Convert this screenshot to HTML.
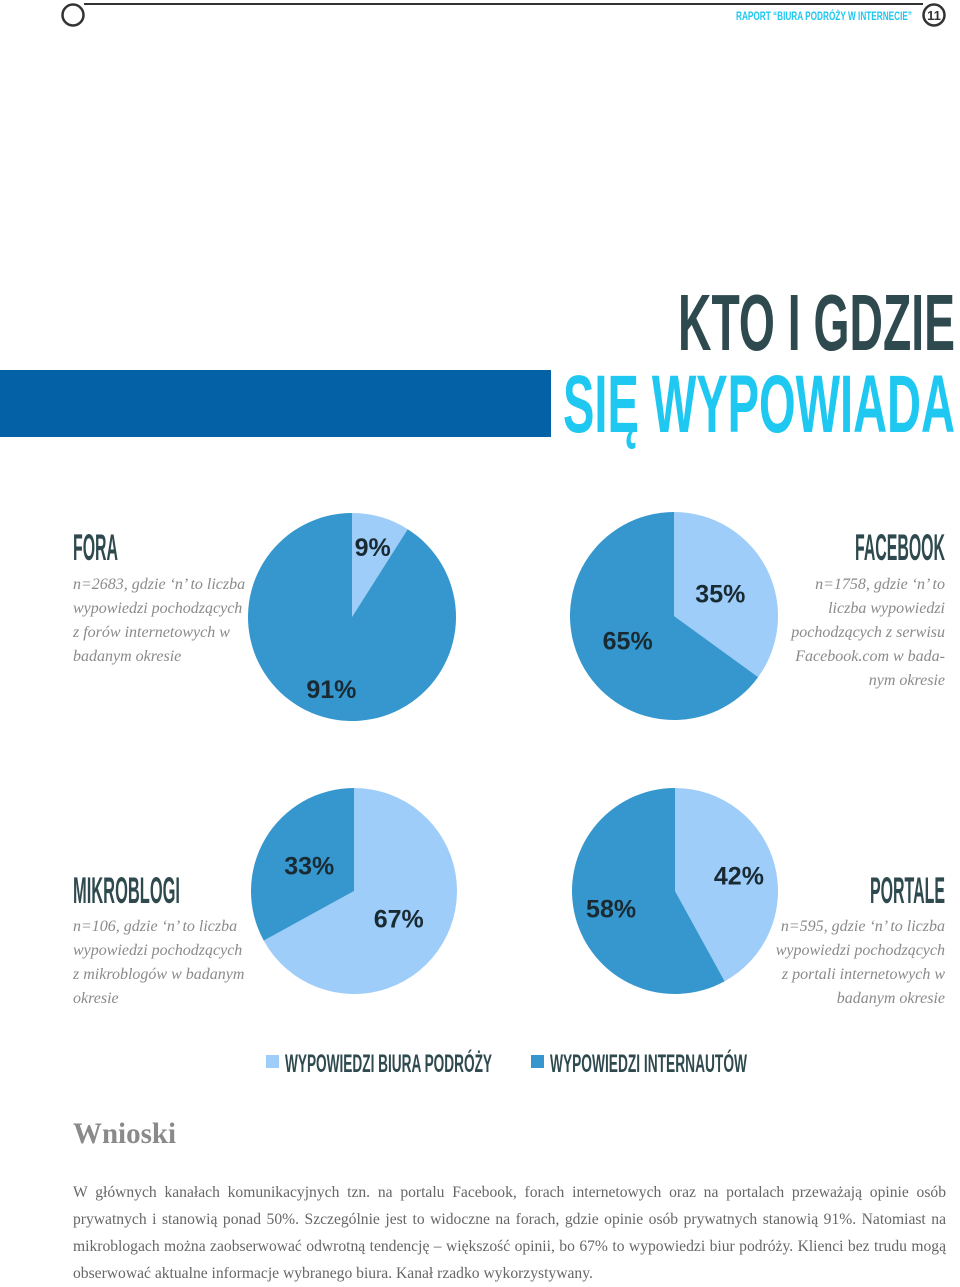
<!DOCTYPE html>
<html><head><meta charset="utf-8"><style>
body{margin:0;width:960px;height:1285px;background:#fff;overflow:hidden;position:relative}
svg{position:absolute;left:0;top:0}
.cond{font-family:"Liberation Sans Narrow","Liberation Sans",sans-serif;font-weight:bold}
.it{font-family:"Liberation Serif",serif;font-style:italic;fill:#8a8a8a;font-size:16px}
#body-text{position:absolute;left:73px;top:1179px;width:873px;font-family:"Liberation Serif",serif;font-size:15.6px;line-height:27px;color:#666;text-align:justify;margin:0}
</style></head><body>
<svg width="960" height="1285">
<line x1="84" y1="4" x2="923" y2="4" stroke="#333" stroke-width="2"/>
<circle cx="73" cy="15" r="10.5" fill="#fff" stroke="#333" stroke-width="2.5"/>
<circle cx="934" cy="15" r="10.5" fill="#fff" stroke="#333" stroke-width="2.5"/>
<text x="934" y="20" text-anchor="middle" class="cond" font-size="13" fill="#333">11</text>
<text x="912" y="20" text-anchor="end" class="cond" font-size="12" fill="#1ec8f0" textLength="176" lengthAdjust="spacingAndGlyphs">RAPORT “BIURA PODRÓŻY W INTERNECIE”</text>
<rect x="0" y="370" width="551" height="67" fill="#0561a6"/>
<text x="955" y="350" text-anchor="end" class="cond" font-size="80" fill="#2f4a4f" textLength="277" lengthAdjust="spacingAndGlyphs">KTO I GDZIE</text>
<text x="955" y="432" text-anchor="end" class="cond" font-size="82" fill="#1ec8f0" textLength="392" lengthAdjust="spacingAndGlyphs">SIĘ WYPOWIADA</text>

<text x="73" y="560" class="cond" font-size="37" fill="#2f4a4f" textLength="45" lengthAdjust="spacingAndGlyphs">FORA</text>
<text class="it"><tspan x="73" y="589">n=2683, gdzie ‘n’ to liczba</tspan><tspan x="73" y="613">wypowiedzi pochodzących</tspan><tspan x="73" y="637">z forów internetowych w</tspan><tspan x="73" y="661">badanym okresie</tspan></text>

<text x="945" y="560" text-anchor="end" class="cond" font-size="37" fill="#2f4a4f" textLength="90" lengthAdjust="spacingAndGlyphs">FACEBOOK</text>
<text class="it" text-anchor="end"><tspan x="945" y="589">n=1758, gdzie ‘n’ to</tspan><tspan x="945" y="613">liczba wypowiedzi</tspan><tspan x="945" y="637">pochodzących z serwisu</tspan><tspan x="945" y="661">Facebook.com w bada-</tspan><tspan x="945" y="685">nym okresie</tspan></text>

<text x="73" y="903" class="cond" font-size="37" fill="#2f4a4f" textLength="107" lengthAdjust="spacingAndGlyphs">MIKROBLOGI</text>
<text class="it"><tspan x="73" y="931">n=106, gdzie ‘n’ to liczba</tspan><tspan x="73" y="955">wypowiedzi pochodzących</tspan><tspan x="73" y="979">z mikroblogów w badanym</tspan><tspan x="73" y="1003">okresie</tspan></text>

<text x="945" y="903" text-anchor="end" class="cond" font-size="37" fill="#2f4a4f" textLength="75" lengthAdjust="spacingAndGlyphs">PORTALE</text>
<text class="it" text-anchor="end"><tspan x="945" y="931">n=595, gdzie ‘n’ to liczba</tspan><tspan x="945" y="955">wypowiedzi pochodzących</tspan><tspan x="945" y="979">z portali internetowych w</tspan><tspan x="945" y="1003">badanym okresie</tspan></text>

<g id="pies"></g>

<rect x="266" y="1055" width="13" height="13" fill="#9dcdf8"/>
<text x="285" y="1072" class="cond" font-size="25" fill="#2f4a4f" textLength="207" lengthAdjust="spacingAndGlyphs">WYPOWIEDZI BIURA PODRÓŻY</text>
<rect x="531" y="1055" width="13" height="13" fill="#3597cd"/>
<text x="550" y="1072" class="cond" font-size="25" fill="#2f4a4f" textLength="197" lengthAdjust="spacingAndGlyphs">WYPOWIEDZI INTERNAUTÓW</text>

<text x="73" y="1143" font-family="Liberation Serif,serif" font-weight="bold" font-size="30" fill="#8a8a8a" textLength="103" lengthAdjust="spacingAndGlyphs">Wnioski</text>
</svg>
<p id="body-text">W głównych kanałach komunikacyjnych tzn. na portalu Facebook, forach internetowych oraz na portalach przeważają opinie osób prywatnych i stanowią ponad 50%. Szczególnie jest to widoczne na forach, gdzie opinie osób prywatnych stanowią 91%. Natomiast na mikroblogach można zaobserwować odwrotną tendencję – większość opinii, bo 67% to wypowiedzi biur podróży. Klienci bez trudu mogą obserwować aktualne informacje wybranego biura. Kanał rzadko wykorzystywany.</p>
<script>
const pieNames = ["fora","facebook","mikroblogi","portale"];
const agencyShare = [9,35,67,42];
const userShare = [91,65,33,58];
const centersX = [352,674,354,675];
const centersY = [617,616,891,891];
const radii = [104,104,103,103];
const labelR = [74,52,52,66];
const NS="http://www.w3.org/2000/svg";
const g=document.getElementById('pies');
function pt(cx,cy,r,frac){const a=frac*2*Math.PI;return [cx+r*Math.sin(a),cy-r*Math.cos(a)];}
function slice(cx,cy,r,f0,f1,color,name){
  const p=document.createElementNS(NS,'path');
  const a=pt(cx,cy,r,f0),b=pt(cx,cy,r,f1);
  const large=(f1-f0)>0.5?1:0;
  p.setAttribute('d',`M${cx},${cy}L${a[0]},${a[1]}A${r},${r} 0 ${large} 1 ${b[0]},${b[1]}Z`);
  p.setAttribute('fill',color);
  
  
  g.appendChild(p);
}
function label(cx,cy,r,f,txt,name){
  const p=pt(cx,cy,r,f);
  const t=document.createElementNS(NS,'text');
  t.setAttribute('x',p[0]);t.setAttribute('y',p[1]+10);
  t.setAttribute('text-anchor','middle');t.setAttribute('class','cond');
  t.setAttribute('font-size','25');t.setAttribute('fill','#1a2a33');
  t.textContent=txt;
  
  
  g.appendChild(t);
}
for(let i=0;i<pieNames.length;i++){
  const tot=agencyShare[i]+userShare[i];
  const fa=agencyShare[i]/tot;
  slice(centersX[i],centersY[i],radii[i],0,fa,'#9dcdf8',pieNames[i]+'-slice-biura');
  slice(centersX[i],centersY[i],radii[i],fa,1,'#3597cd',pieNames[i]+'-slice-internauci');
  label(centersX[i],centersY[i],labelR[i],fa/2,agencyShare[i]+'%',pieNames[i]+'-label-biura');
  label(centersX[i],centersY[i],labelR[i],fa+(1-fa)/2,userShare[i]+'%',pieNames[i]+'-label-internauci');
}
</script>
</body></html>
